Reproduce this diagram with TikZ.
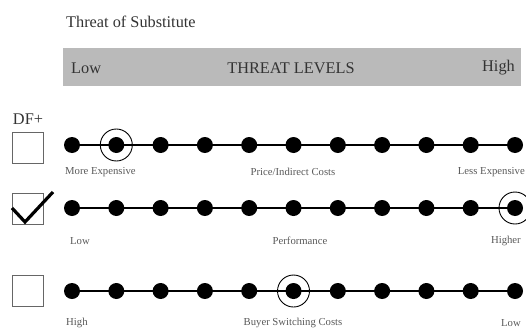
\documentclass[tikz,border=0pt]{standalone}
\usepackage{fontspec}
\setmainfont{Liberation Serif}
\begin{document}
\begin{tikzpicture}[x=1pt,y=-1pt,
  dot/.style={circle,fill=black,inner sep=0pt,minimum size=16pt},
  ring/.style={circle,draw=black,line width=0.9pt,inner sep=0pt,minimum size=32pt},
  cbox/.style={draw=black!60,line width=1pt,inner sep=0pt,minimum size=31pt},
  big/.style={font=\fontsize{16.3}{18}\selectfont,text=black!80,inner sep=0pt},
  small/.style={font=\fontsize{10.7}{12}\selectfont,text=black!65,inner sep=0pt},
  scale line/.style={line width=2pt}]
\useasboundingbox (0,0) rectangle (526,329);
\node[big,anchor=west] (title) at (66,22) {Threat of Substitute};
\node[fill=black!27,minimum width=458pt,minimum height=38pt,inner sep=0pt,anchor=north west] (bar) at (63,48) {};
\node[big,anchor=west] (low) at (71,68) {Low};
\node[big] (levels) at (291,68) {THREAT LEVELS};
\node[big,anchor=east] (high) at (515,68) {High};
\node[big] (df) at (28,119) {DF+};
% rows
\foreach \r/\y in {1/145,2/208,3/291}{
  \foreach \i in {1,...,11}{
    \node[dot] (r\r d\i) at ({72+(\i-1)*44.3},\y) {};
  }
  \draw[scale line] (r\r d1.center) -- (r\r d11.center);
}
\node[cbox] (b1) at (27.5,148) {};
\node[cbox] (b2) at (27.5,208.5) {};
\node[cbox] (b3) at (27.5,291) {};
\coordinate (c1) at (12,208);
\coordinate (c2) at (25,222);
\coordinate (c3) at (53,192);
\draw[line width=3.2pt] (c1) -- (c2) -- (c3);
\node[ring] (k1) at (r1d2) {};
\node[ring] (k2) at (r2d11) {};
\node[ring] (k3) at (r3d6) {};
% labels
\node[small,anchor=west] (l1a) at (65,172) {More Expensive};
\node[small] (l1b) at (293,172) {Price/Indirect Costs};
\node[small,anchor=east] (l1c) at (525,172) {Less Expensive};
\node[small,anchor=west] (l2a) at (70,241) {Low};
\node[small] (l2b) at (300,241) {Performance};
\node[small,anchor=east] (l2c) at (521,241) {Higher};
\node[small,anchor=west] (l3a) at (66,323) {High};
\node[small] (l3b) at (293,323) {Buyer Switching Costs};
\node[small,anchor=east] (l3c) at (521,323) {Low};
\end{tikzpicture}
\end{document}
